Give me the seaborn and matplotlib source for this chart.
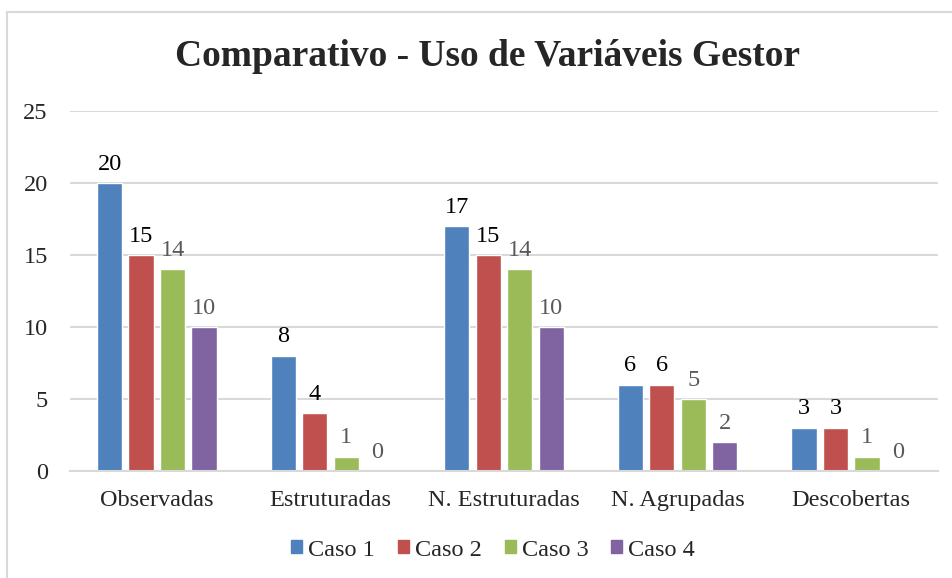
import pandas as pd
import matplotlib.pyplot as plt
import seaborn as sns
from matplotlib.lines import Line2D

# Data
categories = ['Observadas', 'Estruturadas', 'N. Estruturadas', 'N. Agrupadas', 'Descobertas']
casos = ['Caso 1', 'Caso 2', 'Caso 3', 'Caso 4']
caso1 = [20, 8, 17, 6, 3]
caso2 = [15, 4, 15, 6, 3]
caso3 = [14, 1, 14, 5, 1]
caso4 = [10, 0, 10, 2, 0]
yticks = [0, 5, 10, 15, 20, 25]

colors = ['#4F81BD', '#C0504D', '#9BBB59', '#8064A2']
label_colors = ['#000000', '#000000', '#595959', '#595959']

sns.set_style("white")
plt.rcParams['font.family'] = ['Liberation Serif', 'DejaVu Serif']

rows = []
for caso, vals in zip(casos, [caso1, caso2, caso3, caso4]):
    for cat, v in zip(categories, vals):
        rows.append({'categoria': cat, 'caso': caso, 'valor': v})
df = pd.DataFrame(rows)

fig = plt.figure(figsize=(9.52, 5.78), dpi=100)
ax = fig.add_axes([70 / 952, 1 - 471 / 578, 868 / 952, 360 / 578])

sns.barplot(data=df, x='categoria', y='valor', hue='caso', order=categories,
            hue_order=casos, palette=colors, width=0.725, gap=0.2,
            saturation=1, ax=ax, legend=False)

for cont, c in zip(ax.containers, label_colors):
    ax.bar_label(cont, fmt='%d', padding=6, fontsize=17.5, color=c)

ax.set_ylim(0, 25)
ax.set_yticks(yticks)
ax.set_xlim(-0.5, 4.5)
ax.grid(axis='y', color='#D9D9D9', linewidth=1.5)
ax.set_axisbelow(True)
for s in ['top', 'right', 'left']:
    ax.spines[s].set_visible(False)
ax.spines['bottom'].set_color('#D9D9D9')
ax.spines['bottom'].set_linewidth(1.5)
ax.tick_params(axis='both', length=0, labelsize=17.5)
ax.tick_params(axis='y', pad=16)
ax.tick_params(axis='x', pad=14)
ax.set_xlabel('')
ax.set_ylabel('')

fig.text(488 / 952, 1 - 57 / 578, 'Comparativo - Uso de Variáveis Gestor',
         ha='center', va='center', fontsize=27, fontweight='bold')

handles = [plt.Rectangle((0, 0), 1, 1, color=c) for c in colors]
fig.legend(handles, casos, loc='center', bbox_to_anchor=(493 / 952, 1 - 550 / 578),
           ncol=4, frameon=False, fontsize=17.5, handlelength=0.45, handleheight=0.45,
           handletextpad=0.25, columnspacing=0.95)

# chart area border (left and top edges visible in the crop)
fig.add_artist(Line2D([7 / 952, 7 / 952], [0, 1 - 12 / 578], color='#D9D9D9', lw=1.5))
fig.add_artist(Line2D([7 / 952, 1], [1 - 12 / 578, 1 - 12 / 578], color='#D9D9D9', lw=1.5))

fig.savefig('out.png', dpi=100)
